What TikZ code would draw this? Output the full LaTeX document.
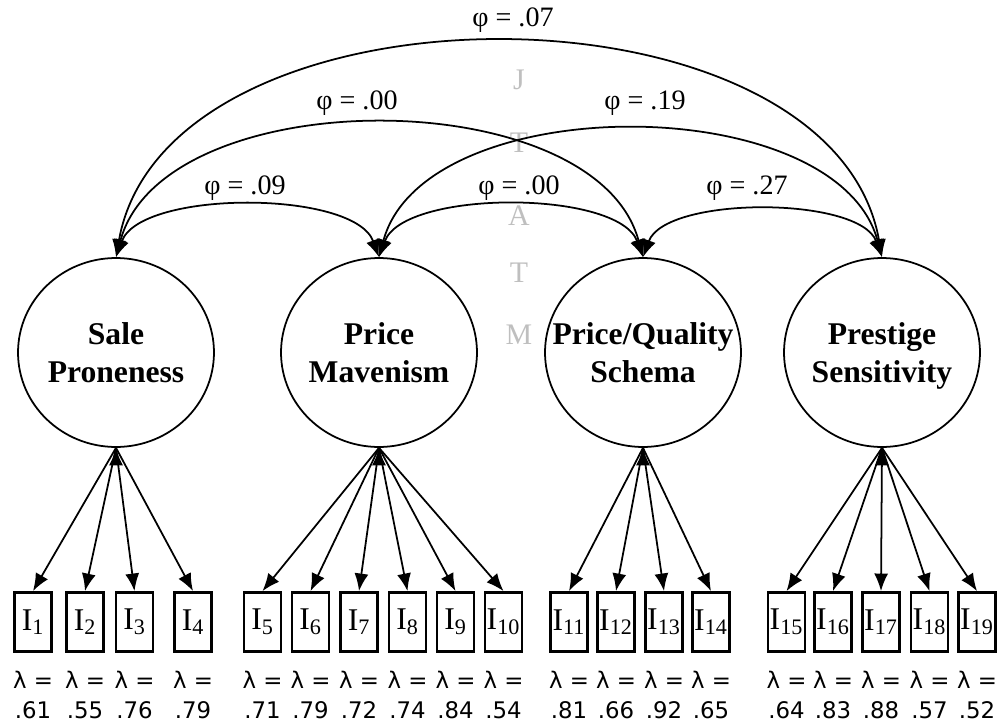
\documentclass[tikz,border=0pt]{standalone}
\usepackage{fontspec}
\setmainfont{Liberation Serif}
\newfontfamily\lblfont{DejaVu Sans}
\usetikzlibrary{arrows.meta,shapes.geometric}

\begin{document}
\begin{tikzpicture}[x=0.02cm,y=0.02cm]
\tikzstyle{factor}=[draw, ellipse, line width=1pt, minimum width=3.92cm, minimum height=3.78cm, inner xsep=-14pt, inner ysep=0pt, text depth=0pt, align=center, font=\fontsize{18}{21.6}\selectfont\bfseries]
\tikzstyle{item}=[draw, rectangle, line width=1.6pt, minimum width=0.74cm, minimum height=1.18cm, inner sep=0pt, font=\fontsize{18}{20}\selectfont]
\tikzstyle{loadlbl}=[align=center, inner sep=0pt, font=\fontsize{13}{17}\selectfont\lblfont]
\tikzstyle{phi}=[inner sep=0pt, font=\fontsize{16}{18}\selectfont]
\tikzstyle{wmark}=[inner sep=0pt, text=black!25, font=\fontsize{17}{20}\selectfont]
\tikzstyle{corr}=[line width=1pt, {Latex[length=10pt,width=8pt]}-{Latex[length=10pt,width=8pt]}]
\tikzstyle{loadarrow}=[line width=1pt, -{Latex[length=10pt,width=8pt]}]
\useasboundingbox (0,0) rectangle (1002,725);

% watermark
\node[wmark] (wJ) at (519,645) {J};
\node[wmark] (wT) at (519,582) {T};
\node[wmark] (wA) at (519,509) {A};
\node[wmark] (wT2) at (519,452) {T};
\node[wmark] (wM) at (519,390) {M};

% factors
\node[factor] (S) at (116,372.5) {Sale\\Proneness};
\node[factor] (M) at (379,372.5) {Price\\Mavenism};
\node[factor] (Q) at (643,372.5) {Price/Quality\\Schema};
\node[factor] (P) at (882,372.5) {Prestige\\Sensitivity};

% items
\node[item] (I1) at (33,103) {I\textsubscript{1}};
\node[item] (I2) at (85,103) {I\textsubscript{2}};
\node[item] (I3) at (134.5,103) {I\textsubscript{3}};
\node[item] (I4) at (193,103) {I\textsubscript{4}};
\node[item] (I5) at (262.5,103) {I\textsubscript{5}};
\node[item] (I6) at (310.5,103) {I\textsubscript{6}};
\node[item] (I7) at (359,103) {I\textsubscript{7}};
\node[item] (I8) at (407.5,103) {I\textsubscript{8}};
\node[item] (I9) at (455.5,103) {I\textsubscript{9}};
\node[item] (I10) at (503.5,103) {I\textsubscript{10}};
\node[item] (I11) at (569,103) {I\textsubscript{11}};
\node[item] (I12) at (616,103) {I\textsubscript{12}};
\node[item] (I13) at (664,103) {I\textsubscript{13}};
\node[item] (I14) at (711,103) {I\textsubscript{14}};
\node[item] (I15) at (786.5,103) {I\textsubscript{15}};
\node[item] (I16) at (833,103) {I\textsubscript{16}};
\node[item] (I17) at (881,103) {I\textsubscript{17}};
\node[item] (I18) at (929.5,103) {I\textsubscript{18}};
\node[item] (I19) at (977,103) {I\textsubscript{19}};

% loadings
\node[loadlbl] (L1) at (33,30) {λ =\\.61};
\node[loadlbl] (L2) at (85,30) {λ =\\.55};
\node[loadlbl] (L3) at (134.5,30) {λ =\\.76};
\node[loadlbl] (L4) at (193,30) {λ =\\.79};
\node[loadlbl] (L5) at (262.5,30) {λ =\\.71};
\node[loadlbl] (L6) at (310.5,30) {λ =\\.79};
\node[loadlbl] (L7) at (359,30) {λ =\\.72};
\node[loadlbl] (L8) at (407.5,30) {λ =\\.74};
\node[loadlbl] (L9) at (455.5,30) {λ =\\.84};
\node[loadlbl] (L10) at (503.5,30) {λ =\\.54};
\node[loadlbl] (L11) at (569,30) {λ =\\.81};
\node[loadlbl] (L12) at (616,30) {λ =\\.66};
\node[loadlbl] (L13) at (664,30) {λ =\\.92};
\node[loadlbl] (L14) at (711,30) {λ =\\.65};
\node[loadlbl] (L15) at (786.5,30) {λ =\\.64};
\node[loadlbl] (L16) at (833,30) {λ =\\.83};
\node[loadlbl] (L17) at (881,30) {λ =\\.88};
\node[loadlbl] (L18) at (929.5,30) {λ =\\.57};
\node[loadlbl] (L19) at (977,30) {λ =\\.52};

\draw[loadarrow] (S.south) edge (I1.north) edge (I2.north) edge (I3.north) edge (I4.north);
\draw[loadarrow] (M.south) edge (I5.north) edge (I6.north) edge (I7.north) edge (I8.north) edge (I9.north) edge (I10.north);
\draw[loadarrow] (Q.south) edge (I11.north) edge (I12.north) edge (I13.north) edge (I14.north);
\draw[loadarrow] (P.south) edge (I15.north) edge (I16.north) edge (I17.north) edge (I18.north) edge (I19.north);

% correlations
\draw[corr] (S.north) to[out=70, in=110, looseness=0.70] (M.north);
\draw[corr] (M.north) to[out=70, in=110, looseness=0.70] (Q.north);
\draw[corr] (Q.north) to[out=70, in=110, looseness=0.70] (P.north);
\draw[corr] (S.north) to[out=75, in=105, looseness=0.89] (Q.north);
\draw[corr] (M.north) to[out=75, in=105, looseness=0.89] (P.north);
\draw[corr] (S.north) to[out=80, in=100, looseness=0.97] (P.north);

\node[phi] (fSM) at (245,537) {φ = .09};
\node[phi] (fMQ) at (519,537) {φ = .00};
\node[phi] (fQP) at (747,537) {φ = .27};
\node[phi] (fSQ) at (357,622) {φ = .00};
\node[phi] (fMP) at (645,622) {φ = .19};
\node[phi] (fSP) at (513,705) {φ = .07};
\end{tikzpicture}
\end{document}
